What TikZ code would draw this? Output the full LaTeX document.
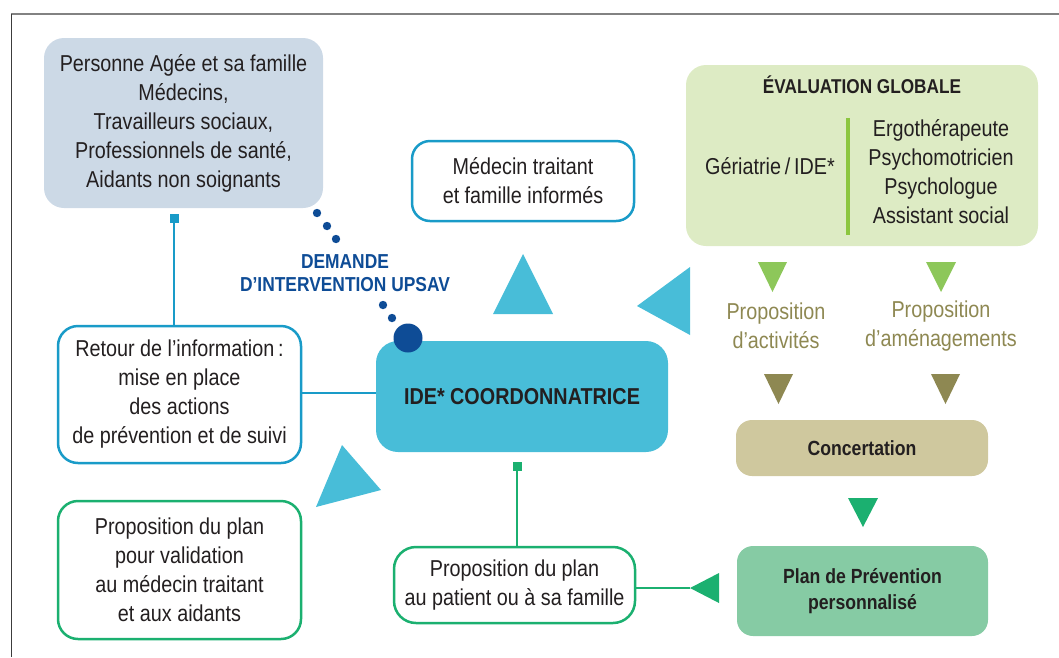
\documentclass[tikz,border=0pt]{standalone}
\usepackage{fontspec}
\setmainfont{Liberation Sans}[FakeStretch=0.86]
\definecolor{txt}{RGB}{35,31,32}
\definecolor{persfill}{RGB}{204,217,230}
\definecolor{bluebd}{RGB}{25,155,200}
\definecolor{idefill}{RGB}{72,189,216}
\definecolor{evalfill}{RGB}{221,235,196}
\definecolor{evalbar}{RGB}{140,198,63}
\definecolor{lgreen}{RGB}{141,199,90}
\definecolor{olive}{RGB}{142,136,82}
\definecolor{tan}{RGB}{207,200,158}
\definecolor{planfill}{RGB}{134,203,164}
\definecolor{greenbd}{RGB}{27,176,112}
\definecolor{dblue}{RGB}{14,76,150}
\begin{document}
\begin{tikzpicture}[x=1pt,y=-1pt,
  every node/.style={text=txt,align=center,inner sep=0pt,
    font=\fontsize{23}{29}\selectfont},
  fillbox/.style={rounded corners=20pt},
  outbox/.style={draw,line width=2.5pt,fill=white,rounded corners=20pt},
  boldlbl/.style={font=\fontsize{20}{29}\selectfont\bfseries},
  conn/.style={line width=2.5pt},
  sqmark/.style={minimum size=9pt,fill}
]
\useasboundingbox (0,0) rectangle (1059,657);
% frame
\draw[line width=2.5pt,color={rgb,255:red,130;green,130;blue,130}] (11,14) -- (1059,14);
\draw[line width=1.2pt,color={rgb,255:red,60;green,60;blue,60}] (11.5,14) -- (11.5,657);

% upper left: who asks
\node[fillbox,fill=persfill,minimum width=279pt,minimum height=170pt] (pers) at (183.5,123)
  {Personne Agée et sa famille\\Médecins,\\Travailleurs sociaux,\\Professionnels de santé,\\Aidants non soignants};

\node[outbox,draw=bluebd,minimum width=222pt,minimum height=80pt,rounded corners=18pt] (med) at (523,181)
  {Médecin traitant\\et famille informés};

% global evaluation block
\node[fillbox,fill=evalfill,minimum width=352pt,minimum height=181pt] (eval) at (862,155.5) {};
\node[boldlbl] (evaltitle) at (862,85) {ÉVALUATION GLOBALE};
\node (geri) at (770,166) {Gériatrie\,/\,IDE*};
\node (spec) at (941,172) {Ergothérapeute\\Psychomotricien\\Psychologue\\Assistant social};
\draw[evalbar,line width=4.5pt] (848,118) -- (848,235);

% proposals
\node[text=olive] (pact) at (776,326) {Proposition\\d’activités};
\node[text=olive] (pam) at (941,326) {Proposition\\d’aménagements};

\fill[lgreen] (758,262) -- (787,262) -- (772.5,292) -- cycle;
\fill[lgreen] (926,262) -- (956,262) -- (941,292) -- cycle;
\fill[olive] (764,374) -- (793,374) -- (778.5,404) -- cycle;
\fill[olive] (931,374) -- (960,374) -- (945.5,404) -- cycle;

\node[fillbox,fill=tan,minimum width=252pt,minimum height=56pt,rounded corners=16pt,
  boldlbl,font=\fontsize{20.5}{29}\selectfont\bfseries] (conc) at (862,448) {Concertation};
\fill[greenbd] (848,498) -- (878,498) -- (863,527) -- cycle;
\node[fillbox,fill=planfill,minimum width=251pt,minimum height=90pt,rounded corners=16pt,
  boldlbl,font=\fontsize{20.5}{26}\selectfont\bfseries] (plan) at (862.5,591)
  {Plan de Prévention\\personnalisé};

% patient proposal
\node[outbox,draw=greenbd,minimum width=241pt,minimum height=76pt,rounded corners=22pt] (pat) at (514.5,585)
  {Proposition du plan\\au patient ou à sa famille};
\coordinate (pattip) at (690,588);
\draw[greenbd,conn] (pat.east |- pattip) -- (pattip);
\fill[greenbd] (pattip) -- (719,573) -- (719,603) -- cycle;

% coordinating nurse
\node[fillbox,fill=idefill,minimum width=292pt,minimum height=111pt,rounded corners=22pt,
  boldlbl,font=\fontsize{23}{29}\selectfont\bfseries] (ide) at (522,396.5) {IDE* COORDONNATRICE};
\node[sqmark,fill=greenbd] (sq2) at (517,466) {};
\draw[greenbd,conn] (sq2) -- (pat.north -| sq2);

% information return
\node[outbox,draw=bluebd,minimum width=243pt,minimum height=137pt] (ret) at (179.5,394.5)
  {Retour de l’information\,:\\mise en place\\des actions\\de prévention et de suivi};
\node[sqmark,fill=bluebd] (sq1) at (174,218) {};
\draw[bluebd,conn] (sq1) -- (ret.north -| sq1);
\draw[bluebd,conn] (ret.east |- 0,393) -- (ide.west |- 0,393);

% validation proposal
\node[outbox,draw=greenbd,minimum width=243pt,minimum height=138pt] (val) at (179.5,570)
  {Proposition du plan\\pour validation\\au médecin traitant\\et aux aidants};

% blue flow triangles
\fill[idefill] (523,254) -- (553,314) -- (493,314) -- cycle;
\fill[idefill] (637,306) -- (690,267) -- (690,335) -- cycle;
\fill[idefill] (342,445) -- (381,490) -- (316,507) -- cycle;

% request for intervention
\foreach \p in {(317,213),(327,226),(336,239),(383,305),(392,318)}
  \fill[dblue] \p circle (4.2pt);
\node[boldlbl,text=dblue,font=\fontsize{20.2}{23}\selectfont\bfseries] (dem) at (345,273)
  {DEMANDE\\D’INTERVENTION UPSAV};
\node[circle,fill=dblue,minimum size=29pt] (dot) at (408,338) {};
\end{tikzpicture}
\end{document}
